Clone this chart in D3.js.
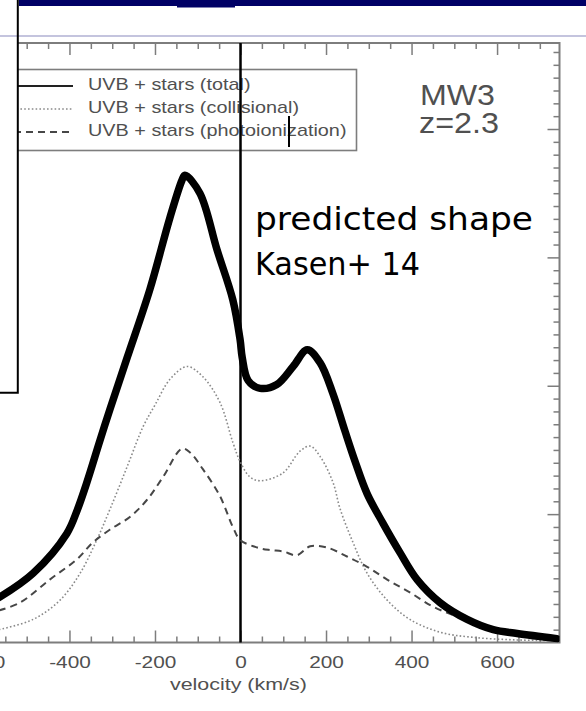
<!DOCTYPE html>
<html>
<head>
<meta charset="utf-8">
<script src="https://cdn.jsdelivr.net/npm/d3@7"></script>
<style>
  html, body { margin: 0; padding: 0; background: #fff; }
  svg { display: block; }
</style>
</head>
<body>
<svg id="chart" width="586" height="711"></svg>
<script>
// Lyman-alpha line profile, MW3 halo at z=2.3 (flux in arbitrary units vs. velocity in km/s)
const totalVel  = [-565,-485,-406,-382,-359,-329,-305,-265,-212,-165,-137,-130,-95,-55,-18,-1,4,18,46,85,123,156,186,216,244,268,296,333,373,413,467,530,591,647,740];
const totalFlux = [0.35,0.54,0.85,1.03,1.25,1.57,1.82,2.22,2.75,3.31,3.60,3.64,3.50,3.06,2.67,2.36,2.22,2.04,1.98,2.01,2.15,2.28,2.18,1.94,1.65,1.41,1.16,0.93,0.70,0.49,0.31,0.18,0.10,0.07,0.03];

const collVel  = [-565,-485,-422,-375,-336,-305,-265,-228,-200,-165,-125,-88,-48,-18,-1,22,46,99,139,163,186,216,233,263,296,343,396,467,544,647,740];
const collFlux = [0.10,0.18,0.33,0.54,0.80,1.04,1.37,1.68,1.85,2.05,2.15,2.07,1.87,1.56,1.41,1.29,1.26,1.32,1.49,1.53,1.45,1.25,1.04,0.78,0.54,0.33,0.18,0.08,0.04,0.02,0.015];

const photoVel  = [-565,-516,-446,-382,-345,-305,-258,-219,-181,-137,-118,-88,-48,-18,-1,39,69,99,132,163,202,249,296,343,396,450,507,567,647,724];
const photoFlux = [0.25,0.31,0.49,0.65,0.78,0.88,0.98,1.11,1.29,1.51,1.48,1.35,1.14,0.90,0.80,0.74,0.72,0.71,0.68,0.75,0.74,0.67,0.59,0.49,0.39,0.28,0.20,0.12,0.07,0.035];

const xMajorTicks = [-600, -400, -200, 0, 200, 400, 600];
const xTickLabels = ["-600", "-400", "-200", "0", "200", "400", "600"];
const yMajorTicks = [1, 2, 3, 4];

const legendLabels = ["UVB + stars (total)", "UVB + stars (collisional)", "UVB + stars (photoionization)"];
const annotationLines = ["predicted shape", "Kasen+ 14"];

// ---- layout ----
const svg = d3.select("#chart");
const plotTop = 43, plotBottom = 642.5, plotRight = 559.5, plotLeft = -80.2;
const axisGray = "#7d7d7d", textGray = "#505050";

const x = d3.scaleLinear().domain([-750, 746]).range([plotLeft, plotRight]);
const y = d3.scaleLinear().domain([0, 4.67]).range([plotBottom, plotTop]);

const majorSet = new Set(xMajorTicks);
const xMinor = d3.range(-750, 750, 50).filter(v => !majorSet.has(v));
const yMinor = d3.range(1, 47).map(i => i / 10).filter(v => Math.abs(v - Math.round(v)) > 1e-6);

// frame
svg.append("rect")
  .attr("x", plotLeft).attr("y", plotTop)
  .attr("width", plotRight - plotLeft).attr("height", plotBottom - plotTop)
  .attr("fill", "none").attr("stroke", axisGray).attr("stroke-width", 2);

function styleAxis(g) {
  g.select(".domain").remove();
  g.selectAll(".tick line").attr("stroke", axisGray).attr("stroke-width", 1.5);
}

// bottom axis, inward ticks + labels
const bottomMajor = svg.append("g").attr("transform", `translate(0,${plotBottom})`)
  .call(d3.axisBottom(x).tickValues(xMajorTicks).tickSizeInner(-12).tickSizeOuter(0)
    .tickPadding(14.5).tickFormat((d, i) => xTickLabels[i]));
styleAxis(bottomMajor);
bottomMajor.attr("font-size", 16).attr("font-family", "'Liberation Sans', Arial, Helvetica, sans-serif");
bottomMajor.selectAll(".tick text").attr("fill", textGray).attr("transform", "scale(1.3,1)");

svg.append("g").attr("transform", `translate(0,${plotBottom})`)
  .call(d3.axisBottom(x).tickValues(xMinor).tickSizeInner(-6).tickSizeOuter(0).tickFormat(""))
  .call(styleAxis);

// top axis, ticks only
svg.append("g").attr("transform", `translate(0,${plotTop})`)
  .call(d3.axisTop(x).tickValues(xMajorTicks).tickSizeInner(-12).tickSizeOuter(0).tickFormat(""))
  .call(styleAxis);
svg.append("g").attr("transform", `translate(0,${plotTop})`)
  .call(d3.axisTop(x).tickValues(xMinor).tickSizeInner(-6).tickSizeOuter(0).tickFormat(""))
  .call(styleAxis);

// right axis, ticks only
svg.append("g").attr("transform", `translate(${plotRight},0)`)
  .call(d3.axisRight(y).tickValues(yMajorTicks).tickSizeInner(-12).tickSizeOuter(0).tickFormat(""))
  .call(styleAxis);
svg.append("g").attr("transform", `translate(${plotRight},0)`)
  .call(d3.axisRight(y).tickValues(yMinor).tickSizeInner(-6).tickSizeOuter(0).tickFormat(""))
  .call(styleAxis);

// axis title
svg.append("text")
  .attr("transform", `translate(${x(-5)},690) scale(1.34,1)`)
  .attr("text-anchor", "middle")
  .attr("font-family", "'Liberation Sans', Arial, Helvetica, sans-serif")
  .attr("font-size", 16).attr("fill", textGray)
  .text("velocity (km/s)");

// ---- curves ----
svg.append("clipPath").attr("id", "plotClip")
  .append("rect").attr("x", plotLeft).attr("y", plotTop)
  .attr("width", plotRight - plotLeft).attr("height", plotBottom - plotTop);

const line = d3.line().x(d => x(d[0])).y(d => y(d[1])).curve(d3.curveCatmullRom.alpha(0.5));
const curves = svg.append("g").attr("clip-path", "url(#plotClip)");

curves.append("path")
  .attr("d", line(d3.zip(collVel, collFlux)))
  .attr("fill", "none").attr("stroke", "#8a8a8a").attr("stroke-width", 1.6)
  .attr("stroke-dasharray", "1.6,2.2");

curves.append("path")
  .attr("d", line(d3.zip(photoVel, photoFlux)))
  .attr("fill", "none").attr("stroke", "#474747").attr("stroke-width", 2)
  .attr("stroke-dasharray", "7,5");

// ---- legend ----
const legendStyles = [
  { stroke: "#222", width: 2, dash: null },
  { stroke: "#8a8a8a", width: 1.6, dash: "1.6,2.2" },
  { stroke: "#474747", width: 2, dash: "7,5" }
];
svg.append("rect")
  .attr("x", -20).attr("y", 69.5).attr("width", 376.5).attr("height", 81)
  .attr("fill", "#fff").attr("stroke", axisGray).attr("stroke-width", 1.6);

const legendRows = svg.append("g");
legendLabels.forEach((label, i) => {
  const base = 90 + i * 23;
  const s = legendStyles[i];
  legendRows.append("line")
    .attr("x1", -10).attr("x2", 73).attr("y1", base - 4).attr("y2", base - 4)
    .attr("stroke", s.stroke).attr("stroke-width", s.width)
    .attr("stroke-dasharray", s.dash);
  legendRows.append("text")
    .attr("transform", `translate(88,${base}) scale(1.24,1)`)
    .attr("font-family", "'Liberation Sans', Arial, Helvetica, sans-serif")
    .attr("font-size", 16).attr("fill", textGray)
    .text(label);
});

// model / redshift tag
svg.append("text").attr("x", 420).attr("y", 105)
  .attr("font-family", "'Liberation Sans', Arial, Helvetica, sans-serif")
  .attr("font-size", 30).attr("fill", textGray)
  .attr("textLength", 75).attr("lengthAdjust", "spacingAndGlyphs")
  .text("MW3");
svg.append("text").attr("x", 419).attr("y", 133)
  .attr("font-family", "'Liberation Sans', Arial, Helvetica, sans-serif")
  .attr("font-size", 29).attr("fill", textGray)
  .attr("textLength", 80).attr("lengthAdjust", "spacingAndGlyphs")
  .text("z=2.3");

// zero-velocity marker
svg.append("line")
  .attr("x1", x(0)).attr("x2", x(0)).attr("y1", plotTop).attr("y2", plotBottom)
  .attr("stroke", "#000").attr("stroke-width", 2.5);

// total profile, emphasised
curves.append("path")
  .attr("d", line(d3.zip(totalVel, totalFlux)))
  .attr("fill", "none").attr("stroke", "#000").attr("stroke-width", 7.5)
  .attr("stroke-linejoin", "round").attr("stroke-linecap", "round");
svg.node().appendChild(curves.node());

// small marker in the legend
svg.append("line").attr("x1", 289).attr("x2", 289).attr("y1", 116).attr("y2", 147)
  .attr("stroke", "#000").attr("stroke-width", 2);

// ---- slide furniture ----
svg.append("rect").attr("x", 0).attr("y", 0).attr("width", 17.8).attr("height", 392.7).attr("fill", "#fff");
svg.append("line").attr("x1", 0).attr("x2", 586).attr("y1", 36).attr("y2", 36)
  .attr("stroke", "#8a8abd").attr("stroke-width", 1.2);
svg.append("path").attr("d", "M17.8,0V392.7H0")
  .attr("fill", "none").attr("stroke", "#000").attr("stroke-width", 2);
svg.append("rect").attr("x", 19).attr("y", 0).attr("width", 567).attr("height", 6).attr("fill", "#000066");
svg.append("rect").attr("x", 177).attr("y", 0).attr("width", 58).attr("height", 7.5).attr("fill", "#000066");

// annotation
annotationLines.forEach((t, i) => {
  svg.append("text").attr("x", 255).attr("y", 230 + i * 45)
    .attr("font-family", "'DejaVu Sans', sans-serif")
    .attr("font-size", 32).attr("fill", "#000")
    .attr("textLength", i === 0 ? 278 : 165).attr("lengthAdjust", "spacingAndGlyphs")
    .text(t);
});
</script>
</body>
</html>
